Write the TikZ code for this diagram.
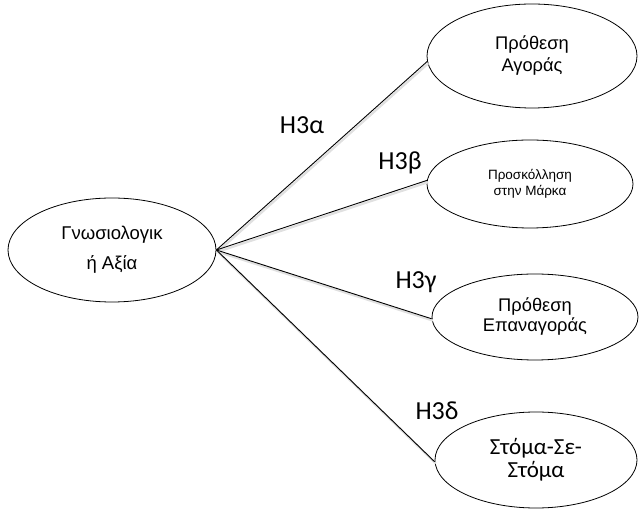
\documentclass[tikz,border=0pt]{standalone}
\usepackage{fontspec}
\usetikzlibrary{shapes.geometric}
\setmainfont{Liberation Sans}
\newfontfamily\calfont{Carlito}
\begin{document}
\begin{tikzpicture}[x=1pt,y=1pt,
  oval/.style={draw, ellipse, line width=0.8pt, inner sep=0pt, align=center},
  link/.style={line width=0.9pt,
    preaction={draw=black!12, line width=2.2pt, transform canvas={shift={(1.2pt,-1.8pt)}}}},
  hyp/.style={font=\calfont\fontsize{26}{28}\selectfont, inner sep=0pt}]
\useasboundingbox (0,0) rectangle (639,511);
% predictor
\node[oval, minimum width=208, minimum height=104,
  font=\fontsize{18.5}{30}\selectfont] (L) at (112,261) {Γνωσιολογικ\\ή Αξία};
% outcomes
\node[oval, minimum width=210, minimum height=104,
  font=\fontsize{18.3}{22}\selectfont] (A) at (532,455) {Πρόθεση\\Αγοράς};
\node[oval, minimum width=206, minimum height=88,
  font=\fontsize{13.5}{16}\selectfont] (B) at (530,327) {Προσκόλληση\\στην Μάρκα};
\node[oval, minimum width=206, minimum height=86,
  font=\fontsize{18.3}{20}\selectfont] (C) at (535,194) {Πρόθεση\\Επαναγοράς};
\node[oval, minimum width=202, minimum height=96,
  font=\calfont\fontsize{23}{22.5}\selectfont] (D) at (536,51) {Στόμα-Σε-\\Στόμα};
% paths
\draw[link] (L.east) -- (A.183);
\draw[link] (L.east) -- (B.178);
\draw[link] (L.east) -- (C.181);
\draw[link] (L.east) -- (D.181);
% hypothesis labels
\node[hyp] (ha) at (302,386) {H3α};
\node[hyp] (hb) at (400,348) {H3β};
\node[hyp] (hc) at (416,229) {H3γ};
\node[hyp] (hd) at (437,100) {H3δ};
\end{tikzpicture}
\end{document}
